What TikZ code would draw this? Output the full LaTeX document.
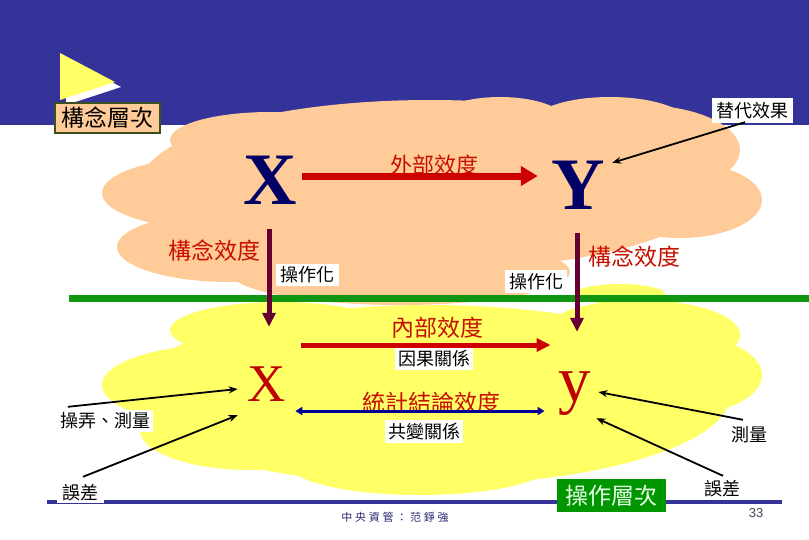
\documentclass[tikz,border=0pt]{standalone}
\usepackage{fontspec}
\setmainfont{Liberation Serif}
\newfontfamily\cjk{Noto Sans CJK TC}
\newfontfamily\serifx{Liberation Serif}
\newfontfamily\sansx{Liberation Sans}
\usetikzlibrary{arrows.meta,calc}
\definecolor{bandnavy}{RGB}{51,51,153}
\definecolor{peach}{RGB}{255,204,153}
\definecolor{lemon}{RGB}{255,255,102}
\definecolor{trig}{RGB}{255,255,102}
\definecolor{linegreen}{RGB}{16,150,16}
\definecolor{boxgreen}{RGB}{0,150,0}
\definecolor{olive}{RGB}{60,80,30}
\definecolor{xnavy}{RGB}{0,0,102}
\definecolor{xred}{RGB}{190,0,0}
\definecolor{labred}{RGB}{200,16,0}
\definecolor{arrred}{RGB}{204,0,0}
\definecolor{plum}{RGB}{102,0,51}
\definecolor{arrblue}{RGB}{0,0,153}
\definecolor{footnavy}{RGB}{40,40,110}
\definecolor{pagegray}{RGB}{70,70,90}
\definecolor{palegreen}{RGB}{230,255,230}
\begin{document}
\begin{tikzpicture}[x=1pt,y=-1pt,
  bigtop/.style={font=\serifx\bfseries\fontsize{74}{74}\selectfont, text=xnavy, inner sep=0pt, minimum width=54pt, minimum height=50pt},
  lab/.style={font=\cjk\fontsize{23}{23}\selectfont, text=labred, inner sep=0pt},
  wbox/.style={fill=white, inner sep=0pt, font=\cjk\fontsize{18}{18}\selectfont, text=black},
  tbox/.style={inner sep=0pt, font=\cjk\fontsize{18}{18}\selectfont, text=black, minimum width=38pt, minimum height=20pt},
  redarr/.style={draw=arrred, line width=7pt, -{Triangle[length=17pt,width=19pt]}},
  redarrs/.style={draw=arrred, line width=5pt, -{Triangle[length=14pt,width=13pt]}},
  plumarr/.style={draw=plum, line width=5pt, -{Triangle[length=14pt,width=13pt]}},
  bluearr/.style={draw=arrblue, line width=3pt, {Triangle[length=7pt,width=8pt]}-{Triangle[length=7pt,width=8pt]}},
  blkarr/.style={draw=black, line width=1.8pt, -{Stealth[length=9pt,width=7pt]}}
]
\useasboundingbox (0,0) rectangle (809,539);
\fill[white] (0,0) rectangle (809,539);
\fill[bandnavy] (0,0) rectangle (809,125);
% flag triangle
\fill[white] (66,58) -- (121,87) -- (66,105) -- cycle;
\fill[trig] (60,53) -- (115,82) -- (60,100) -- cycle;
% yellow cloud (operational level)
\begin{scope}[fill=lemon]
\fill (430,395) ellipse [x radius=300pt, y radius=90pt];
\fill (220,385) ellipse [x radius=118pt, y radius=40pt];
\fill (250,430) ellipse [x radius=110pt, y radius=40pt];
\fill (280,330) ellipse [x radius=110pt, y radius=28pt];
\fill (680,375) ellipse [x radius=82pt, y radius=40pt];
\fill (640,335) ellipse [x radius=100pt, y radius=35pt];
\fill (420,465) ellipse [x radius=130pt, y radius=30pt];
\end{scope}
% peach cloud (construct level)
\begin{scope}[fill=peach]
\fill (430,185) ellipse [x radius=290pt, y radius=85pt];
\fill (215,193) ellipse [x radius=113pt, y radius=36pt];
\fill (230,247) ellipse [x radius=113pt, y radius=35pt];
\fill (270,140) ellipse [x radius=100pt, y radius=28pt];
\fill (640,150) ellipse [x radius=100pt, y radius=45pt];
\fill (680,200) ellipse [x radius=82pt, y radius=38pt];
\fill (400,272) ellipse [x radius=170pt, y radius=33pt];
\fill (500,125) ellipse [x radius=70pt, y radius=28pt];
\fill (610,125) ellipse [x radius=80pt, y radius=28pt];
\end{scope}
\fill[lemon] (620,294) ellipse [x radius=45pt, y radius=10pt];
% level lines
\fill[linegreen] (69,295) rectangle (809,302);
\fill[bandnavy] (47,500) rectangle (782,504);
% level labels
\node[fill=peach, draw=olive, line width=2pt, inner sep=0pt, minimum width=105pt, minimum height=30pt,
      font=\cjk\fontsize{23}{23}\selectfont] (cl) at (107.5,118) {構念層次};
\node[fill=boxgreen, inner sep=0pt, minimum width=109pt, minimum height=33pt, text=palegreen,
      font=\cjk\fontsize{23}{23}\selectfont] (ol) at (611.5,495.5) {操作層次};
% variables
\node[bigtop] (XT) at (270,180) {X};
\node[bigtop] (YT) at (578,185) {Y};
\node[font=\serifx\fontsize{53}{53}\selectfont, text=xred, inner sep=0pt, minimum width=30pt, minimum height=36pt] (XB) at (267,384) {X};
\node[font=\serifx\fontsize{65}{65}\selectfont, text=xred, inner sep=0pt, minimum width=30pt, minimum height=46pt] (yB) at (575,394) {y};
% red labels
\node[lab, font=\cjk\fontsize{22}{22}\selectfont] (ext) at (434,165) {外部效度};
\node[lab] (cvl) at (214,251) {構念效度};
\node[lab] (cvr) at (634,257) {構念效度};
\node[lab] (intv) at (437,328) {內部效度};
\node[lab] (scv) at (431,403) {統計結論效度};
% white boxes
\node[wbox, minimum width=63pt, minimum height=22pt] (opl) at (307.5,275) {操作化};
\node[wbox, minimum width=62pt, minimum height=23pt] (opr) at (536,281.5) {操作化};
\node[wbox, minimum width=81pt, minimum height=25pt] (sub) at (752.5,110.5) {替代效果};
\node[wbox, minimum width=78pt, minimum height=22pt] (cau) at (434,359) {因果關係};
\node[wbox, minimum width=78pt, minimum height=23pt] (cov) at (424,431.5) {共變關係};
\node[wbox, minimum width=96pt, minimum height=22pt] (m1) at (105,421) {操弄、測量};
\node[wbox, minimum width=47pt, minimum height=21pt] (e1) at (80.5,492.5) {誤差};
\node[tbox] (m2) at (749.5,435) {測量};
\node[tbox] (e2) at (722,489) {誤差};
% footer
\node[inner sep=0pt, text=footnavy, font=\cjk\fontsize{11}{11}\selectfont\addfontfeature{LetterSpace=25}] (foot) at (395,517) {中央資管：范錚強};
\node[inner sep=0pt, text=pagegray, font=\sansx\fontsize{13}{13}\selectfont] (pg) at (756,513) {33};
% connectors
\draw[redarr, shorten <=5pt, shorten >=13pt] ([yshift=4pt]XT.east) -- ([yshift=4pt]XT.east -| YT.west);
\draw[plumarr, shorten <=24pt, shorten >=39pt] ([xshift=-1pt]XT.south) -- ([xshift=-1pt]XT.south |- XB.north);
\draw[plumarr, shorten <=23pt, shorten >=39pt] ([xshift=-1pt]YT.south) -- ([xshift=-1pt]YT.south |- yB.north);
\draw[redarrs, shorten <=15pt, shorten >=8pt] ([yshift=39pt]XB.east) -- ([yshift=39pt]XB.east -| yB.west);
\draw[bluearr, shorten <=9pt, shorten >=14pt] ([yshift=-27pt]XB.east) -- ([yshift=-27pt]XB.east -| yB.west);
\draw[blkarr] ([xshift=-7.5pt,yshift=1pt]sub.south) -- ([xshift=7pt,yshift=-3pt]YT.north east);
\draw[blkarr] ([xshift=11pt,yshift=3pt]m1.north west) -- ([xshift=-10pt,yshift=-5pt]XB.west);
\draw[blkarr] ([xshift=2.5pt,yshift=5pt]e1.north) -- ([xshift=-10pt,yshift=-13pt]XB.south west);
\draw[blkarr] ([xshift=-6.5pt,yshift=5pt]m2.north) -- ([xshift=7pt,yshift=2pt]yB.east);
\draw[blkarr] ([xshift=1pt,yshift=3pt]e2.north) -- ([xshift=5pt,yshift=-1pt]yB.south east);
\end{tikzpicture}
\end{document}
